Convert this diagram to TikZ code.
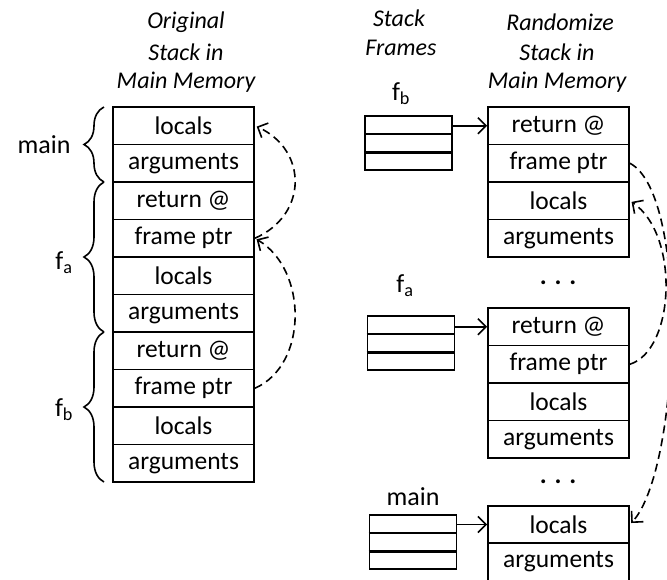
\documentclass[tikz,border=0pt]{standalone}
\usepackage{fontspec}
\setmainfont{Carlito}
\usetikzlibrary{arrows.meta,decorations.pathreplacing,calc}
\begin{document}
\begin{tikzpicture}[x=1pt,y=-1pt,
  cell/.style={draw, line width=1.8pt, minimum width=141pt, minimum height=37.5pt,
    inner sep=0pt, font=\fontsize{25.5}{28}\selectfont},
  frame/.style={draw, line width=1.8pt, minimum width=87pt, minimum height=54pt, inner sep=0pt},
  title/.style={font=\fontsize{24}{28}\itshape\selectfont},
  lbl/.style={font=\fontsize{26}{28}\selectfont},
  ptr/.style={line width=1.6pt, -{Straight Barb[length=8pt,width=16pt,line width=1.6pt]}},
  dptr/.style={line width=1.6pt, dash pattern=on 8pt off 5pt,
    -{Straight Barb[length=8pt,width=16pt,line width=1.6pt]}, shorten >=2pt},
  stackbrace/.style={decorate, line width=1.6pt,
    decoration={brace, amplitude=20pt, aspect=0.5}},
]
\useasboundingbox (0,0) rectangle (667,579);

% headings
\node[title] (t1) at (186,22) {Original};
\node[title] (t2) at (186,52) {Stack in};
\node[title] (t3) at (186,82) {Main Memory};
\node[title] (t4) at (399,18) {Stack};
\node[title] (t5) at (401,48) {Frames};
\node[title] (t6) at (560,22) {Randomize};
\node[title] (t7) at (557,52) {Stack in};
\node[title] (t8) at (557,82) {Main Memory};

% original stack
\node[cell] (L1)  at (183.5,125.75) {locals};
\node[cell] (L2)  at (183.5,163.25) {arguments};
\node[cell] (L3)  at (183.5,200.75) {return @};
\node[cell] (L4)  at (183.5,238.25) {frame ptr};
\node[cell] (L5)  at (183.5,275.75) {locals};
\node[cell] (L6)  at (183.5,313.25) {arguments};
\node[cell] (L7)  at (183.5,350.75) {return @};
\node[cell] (L8)  at (183.5,388.25) {frame ptr};
\node[cell] (L9)  at (183.5,425.75) {locals};
\node[cell] (L10) at (183.5,463.25) {arguments};

% braces grouping the frames
\draw[stackbrace] (104,182) -- (104,107);
\draw[stackbrace] (104,332) -- (104,182);
\draw[stackbrace] (104,482) -- (104,332);
\node[lbl] (gm) at (44,145) {main};
\node[lbl] (ga) at (64,263) {f\textsubscript{a}};
\node[lbl] (gb) at (64,410) {f\textsubscript{b}};

% saved frame pointers in the original stack
\draw[dptr] (L4.east) .. controls (308,215) and (308,150) .. (L1.east);
\draw[dptr] (L8.east) .. controls (308,365) and (308,270) .. (L4.east);

% randomized stack: frame of f_b
\node[cell] (R1a) at (558.5,125.75) {return @};
\node[cell] (R1b) at (558.5,163.25) {frame ptr};
\node[cell] (R1c) at (558.5,200.75) {locals};
\node[cell] (R1d) at (558.5,238.25) {arguments};
\node[lbl, font=\bfseries\fontsize{26}{28}\selectfont] (dots1) at (558,283) {. . .};

% frame of f_a
\node[cell] (R2a) at (558.5,326.75) {return @};
\node[cell] (R2b) at (558.5,364.25) {frame ptr};
\node[cell] (R2c) at (558.5,401.75) {locals};
\node[cell] (R2d) at (558.5,439.25) {arguments};
\node[lbl, font=\bfseries\fontsize{26}{28}\selectfont] (dots2) at (558,482) {. . .};

% frame of main
\node[cell] (R3a) at (558.5,524.5) {locals};
\node[cell] (R3b) at (558.5,562) {arguments};

% stack frame records
\node[lbl] (nb) at (401,94) {f\textsubscript{b}};
\node[frame] (sfb) at (408.5,143) {};
\node[lbl] (na) at (405,286) {f\textsubscript{a}};
\node[frame] (sfa) at (411,343) {};
\node[lbl] (nm) at (413,497) {main};
\node[frame] (sfm) at (413,542) {};

\foreach \f in {sfb,sfa,sfm}{
  \draw[line width=1.8pt] ($(\f.north west)!1/3!(\f.south west)$) -- ($(\f.north east)!1/3!(\f.south east)$);
  \draw[line width=2.6pt] ($(\f.north west)!2/3!(\f.south west)$) -- ($(\f.north east)!2/3!(\f.south east)$);
}

\draw[ptr] (sfb.east |- R1a.west) -- (R1a.west);
\draw[ptr] (sfa.east |- R2a.west) -- (R2a.west);
\draw[ptr] (sfm.east |- R3a.west) -- (R3a.west);

% saved frame pointers in the randomized stack
\draw[dptr] (R1b.east) .. controls (690,195) and (680,470) .. (R3a.east);
\draw[dptr] (R2b.east) .. controls (675,350) and (680,235) .. (R1c.east);
\end{tikzpicture}
\end{document}
